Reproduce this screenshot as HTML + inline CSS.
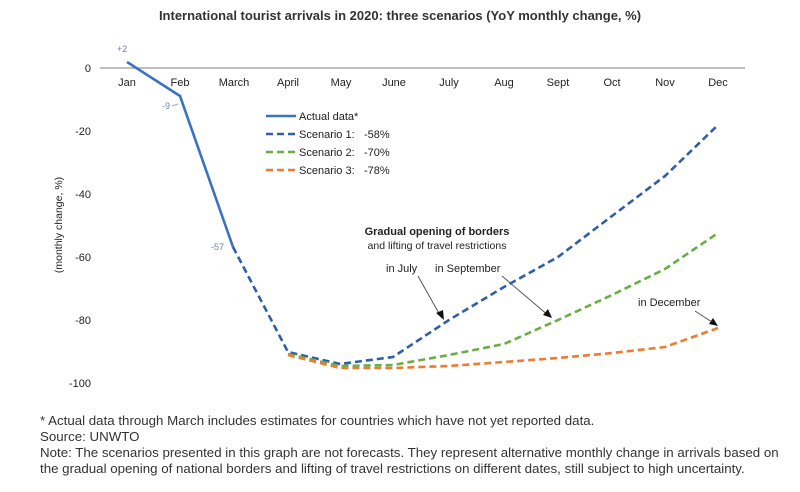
<!DOCTYPE html>
<html><head><meta charset="utf-8"><style>
body{margin:0;background:#fff;width:800px;height:487px;overflow:hidden;font-family:"Liberation Sans",Arial,sans-serif}
</style></head><body>
<svg width="800" height="487" xmlns="http://www.w3.org/2000/svg" font-family="Liberation Sans, Arial, sans-serif">
<text x="400" y="20" text-anchor="middle" font-size="13" font-weight="bold" fill="#333">International tourist arrivals in 2020: three scenarios (YoY monthly change, %)</text>
<line x1="100" y1="68" x2="745" y2="68" stroke="#999" stroke-width="1.3"/>
<g font-size="11" fill="#222" text-anchor="end">
<text x="91" y="72">0</text><text x="91" y="135">-20</text><text x="91" y="198">-40</text>
<text x="91" y="261">-60</text><text x="91" y="324">-80</text><text x="91" y="387">-100</text>
</g>
<text transform="translate(62,225) rotate(-90)" font-size="10.5" fill="#222" text-anchor="middle">(monthly change, %)</text>
<g font-size="11" fill="#222" text-anchor="middle">
<text x="127" y="86">Jan</text><text x="180" y="86">Feb</text><text x="234" y="86">March</text>
<text x="288" y="86">April</text><text x="341" y="86">May</text><text x="394" y="86">June</text>
<text x="449" y="86">July</text><text x="504" y="86">Aug</text><text x="558" y="86">Sept</text>
<text x="612" y="86">Oct</text><text x="665" y="86">Nov</text><text x="718" y="86">Dec</text>
</g>
<g font-size="9" fill="#6a86a8"><text x="117" y="52">+2</text><text x="162" y="109">-9</text><text x="211" y="250">-57</text></g>
<line x1="172" y1="106" x2="178" y2="104" stroke="#aaa"/>
<polyline fill="none" stroke="#3a72c0" stroke-width="2.6" points="127,62 180,96 233,247"/>
<polyline fill="none" stroke="#2e5fa8" stroke-width="2.6" stroke-dasharray="7,4" points="233,247 288,352 340,364 393,357 449,320 504,287 558,257 612,216 665,176 718,125"/>
<polyline fill="none" stroke="#6bae45" stroke-width="2.6" stroke-dasharray="7,4" points="288,354 340,366 393,365 449,355 504,344 558,320 612,295 665,269 718,233"/>
<polyline fill="none" stroke="#ee7b30" stroke-width="2.6" stroke-dasharray="7,4" points="288,355 340,368 393,368 449,366 504,362 558,358 612,353 665,347 718,328"/>
<g font-size="11" fill="#222">
<line x1="266" y1="116" x2="296" y2="116" stroke="#3a72c0" stroke-width="2.5"/><text x="299" y="120">Actual data*</text>
<line x1="266" y1="134" x2="296" y2="134" stroke="#2e5fa8" stroke-width="2.5" stroke-dasharray="7,4"/><text x="299" y="138">Scenario 1:</text><text x="364" y="138">-58%</text>
<line x1="266" y1="152" x2="296" y2="152" stroke="#6bae45" stroke-width="2.5" stroke-dasharray="7,4"/><text x="299" y="156">Scenario 2:</text><text x="364" y="156">-70%</text>
<line x1="266" y1="170" x2="296" y2="170" stroke="#ee7b30" stroke-width="2.5" stroke-dasharray="7,4"/><text x="299" y="174">Scenario 3:</text><text x="364" y="174">-78%</text>
</g>
<text x="437" y="235" text-anchor="middle" font-size="11" font-weight="bold" fill="#222">Gradual opening of borders</text>
<text x="437" y="249" text-anchor="middle" font-size="10.5" fill="#222">and lifting of travel restrictions</text>
<g font-size="11" fill="#222"><text x="386" y="272">in July</text><text x="435" y="272">in September</text><text x="638" y="306">in December</text></g>
<g stroke="#555" stroke-width="1"><line x1="418" y1="276" x2="441" y2="317"/><line x1="502" y1="276" x2="549" y2="316"/><line x1="695" y1="311" x2="715" y2="324"/></g>
<g fill="#111"><polygon points="444,320 436,313 443,310"/><polygon points="552,318 543,315 548,309"/><polygon points="718,326 709,324 713,318"/></g>
<g font-size="13.3" fill="#333">
<text x="40" y="425">* Actual data through March includes estimates for countries which have not yet reported data.</text>
<text x="40" y="441">Source: UNWTO</text>
<text x="40" y="457">Note: The scenarios presented in this graph are not forecasts. They represent alternative monthly change in arrivals based on</text>
<text x="40" y="473">the gradual opening of national borders and lifting of travel restrictions on different dates, still subject to high uncertainty.</text>
</g>
</svg>
</body></html>
